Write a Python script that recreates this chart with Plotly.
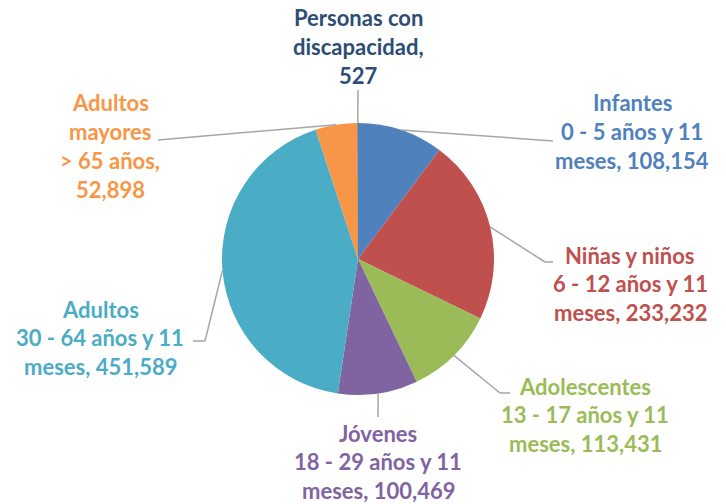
import math
import plotly.graph_objects as go

# ---- data ----
categories = ["Infantes", "Niñas y niños", "Adolescentes", "Jóvenes", "Adultos",
              "Adultos mayores", "Personas con discapacidad"]
values = [108154, 233232, 113431, 100469, 451589, 52898, 527]
slice_colors = ["#4F81BD", "#C0504D", "#9BBB59", "#8064A2", "#4BACC6", "#F79646", "#1F497D"]
text_colors = ["#4F81BD", "#C0504D", "#9BBB59", "#8064A2", "#4BACC6", "#F79646", "#2C4D75"]
label_lines = [
    ["Infantes", "0 - 5 años y 11", "meses, {v}"],
    ["Niñas y niños", "6 - 12 años y 11", "meses, {v}"],
    ["Adolescentes", "13 - 17 años y 11", "meses, {v}"],
    ["Jóvenes", "18 - 29 años y 11", "meses, {v}"],
    ["Adultos", "30 - 64 años y 11", "meses, {v}"],
    ["Adultos", "mayores", "> 65 años,", "{v}"],
    ["Personas con", "discapacidad,", "{v}"],
]

# ---- layout (pixels) ----
W, H = 726, 504
CX, CY, R = 358, 259, 136
# label block: (center x, first line y)
label_pos = [(632, 103), (630, 255), (585, 386), (378, 433), (100, 309), (110, 103), (358, 18)]
LINE_SP = 28.7
# leader line elbow points (pixel) for each slice
leader_pts = [
    [(553, 141)],
    [(545, 262), (553, 262)],
    [(500, 393), (510, 393)],
    [(378, 417)],
    [(205, 341), (193, 341)],
    [(158, 140)],
    [(358, 90)],
]


def px(x, y):
    return x / W, 1 - y / H


fig = go.Figure()
fig.add_trace(go.Pie(
    labels=categories, values=values, sort=False, direction="clockwise", rotation=0,
    marker=dict(colors=slice_colors, line=dict(width=0)),
    textinfo="none", hoverinfo="label+value", showlegend=False,
    domain=dict(x=[(CX - R) / W, (CX + R) / W], y=[1 - (CY + R) / H, 1 - (CY - R) / H]),
))

total = sum(values)
cum = 0
shapes = []
annotations = []
for i, v in enumerate(values):
    mid = (cum + v / 2) / total * 2 * math.pi
    cum += v
    sx, sy = CX + R * math.sin(mid), CY - R * math.cos(mid)
    pts = [(sx, sy)] + leader_pts[i]
    for (x0, y0), (x1, y1) in zip(pts[:-1], pts[1:]):
        a0, b0 = px(x0, y0)
        a1, b1 = px(x1, y1)
        shapes.append(dict(type="line", xref="paper", yref="paper", x0=a0, y0=b0, x1=a1, y1=b1,
                           line=dict(color="#A6A6A6", width=1.5)))
    lx, ly = label_pos[i]
    for k, line in enumerate(label_lines[i]):
        t = line.format(v=f"{v:,}")
        ax, ay = px(lx, ly + k * LINE_SP)
        annotations.append(dict(x=ax, y=ay, xref="paper", yref="paper", text=f"<b>{t}</b>",
                                showarrow=False, xanchor="center", yanchor="middle",
                                font=dict(family="Lato", size=22, color=text_colors[i])))

fig.update_layout(
    width=W, height=H, margin=dict(l=0, r=0, t=0, b=0),
    paper_bgcolor="white", plot_bgcolor="white",
    shapes=shapes, annotations=annotations,
)
fig.write_html("out.html", config={"displayModeBar": False},
               post_script="document.body.style.margin='0';document.body.style.overflow='hidden';")
